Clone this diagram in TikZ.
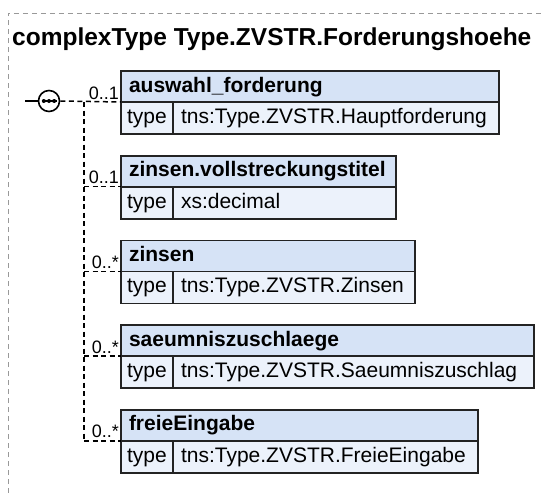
\documentclass[tikz,border=0pt]{standalone}
\usepackage{fontspec}
\setmainfont{Liberation Sans}
\usetikzlibrary{positioning,calc}
\definecolor{hdrblue}{RGB}{214,227,246}
\definecolor{typeblue}{RGB}{236,242,251}
\definecolor{edgegray}{RGB}{35,35,35}
\tikzset{
  xsdhead/.style={draw=edgegray, line width=1.6pt, fill=hdrblue, anchor=north west,
    minimum height=31pt, inner xsep=8pt, inner ysep=0pt, outer sep=0pt, align=left,
    text height=15.5pt, text depth=4.5pt,
    font=\fontsize{21}{25}\selectfont\bfseries},
  xsdcell/.style={draw=edgegray, line width=1.6pt, fill=typeblue, anchor=north west,
    minimum height=32pt, inner xsep=8pt, inner ysep=0pt, outer sep=0pt,
    text height=15.5pt, text depth=4.5pt,
    font=\fontsize{21}{25}\selectfont},
  xsdlink/.style={line width=1.5pt, dash pattern=on 5pt off 3.5pt},
  xsdmult/.style={font=\fontsize{18}{20}\selectfont, inner sep=0pt, anchor=base east},
  xsdframe/.style={draw=black!40, line width=0.9pt, dash pattern=on 5pt off 4pt},
}

\begin{document}
\begin{tikzpicture}[x=1pt,y=-1pt]
  \useasboundingbox (0,0) rectangle (542,493);
  % Rahmen und Titel
  \draw[xsdframe] (8,493) -- (8,13) -- (542,13);
  \node[font=\fontsize{24.5}{28}\selectfont\bfseries, inner sep=0pt, anchor=base west]
    (title) at (12,45) {complexType Type.ZVSTR.Forderungshoehe};
  % Elemente der Sequenz
  \foreach \lbl/\typ/\w/\mult [count=\i] in {
      auswahl\_forderung/tns:Type.ZVSTR.Hauptforderung/378/{0..1},
      zinsen.vollstreckungstitel/xs:decimal/275/{0..1},
      zinsen/tns:Type.ZVSTR.Zinsen/294/{0..*},
      saeumniszuschlaege/tns:Type.ZVSTR.Saeumniszuschlag/413/{0..*},
      freieEingabe/tns:Type.ZVSTR.FreieEingabe/357/{0..*}}
  {
    \pgfmathsetmacro\tw{\w-16}
    \pgfmathsetmacro\vw{\w-52-16}
    \node[xsdhead, text width=\tw pt] (h\i) at (121,{71+84.7*(\i-1)}) {\lbl};
    \node[xsdcell, inner xsep=0pt, minimum width=52pt] (k\i) at (h\i.south west) {type};
    \node[xsdcell, text width=\vw pt, align=left] (v\i) at (k\i.north east) {\typ};
    \coordinate (j\i) at (84,{102+84.7*(\i-1)});
    \node[xsdmult] (m\i) at ([xshift=-2pt,yshift=3pt]h\i.south west) {\mult};
  }
  % Sequenz-Symbol
  \node[circle, draw=black, line width=1.6pt, fill=white, minimum size=21pt, inner sep=0pt]
    (seq) at (49,101) {};
  \draw[line width=1.4pt] (seq.center) ++(-7.5,0) -- ++(15,0);
  \foreach \dx in {-5.2,0,5.2}
    \fill ([xshift=\dx pt]seq.center) circle (2pt);
  \coordinate (in) at (25,101);
  \draw[line width=1.5pt] (in) -- (seq.west);
  % Verbindungen
  \draw[xsdlink] (seq.east) -- (h1.south west);
  \draw[xsdlink] (j1) -- (j5);
  \foreach \i in {2,...,5}
    \draw[xsdlink] (j\i) -- (h\i.south west);
\end{tikzpicture}
\end{document}
